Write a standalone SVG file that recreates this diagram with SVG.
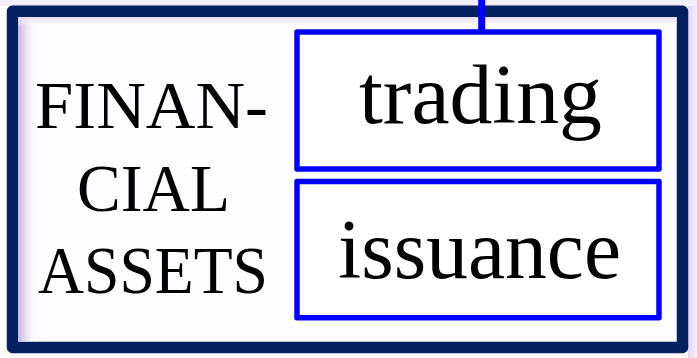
<svg xmlns="http://www.w3.org/2000/svg" width="697" height="358" viewBox="0 0 697 358">
  <defs>
    <linearGradient id="glowL" x1="0" y1="0" x2="1" y2="0">
      <stop offset="0" stop-color="#c9b3e0"/>
      <stop offset="1" stop-color="#ffffff" stop-opacity="0"/>
    </linearGradient>
    <linearGradient id="glowT" x1="0" y1="0" x2="0" y2="1">
      <stop offset="0" stop-color="#e6d8f0"/>
      <stop offset="1" stop-color="#ffffff" stop-opacity="0"/>
    </linearGradient>
    <linearGradient id="outR" x1="0" y1="0" x2="1" y2="0">
      <stop offset="0" stop-color="#e4d6f0"/>
      <stop offset="1" stop-color="#f6f0fb"/>
    </linearGradient>
  </defs>
  <style>
    .frame { fill: #fdfdff; stroke: #05205e; stroke-width: 11.5; stroke-linejoin: round; }
    .box { fill: #ffffff; stroke: #0000ff; stroke-width: 5.5; stroke-linejoin: round; }
    .conn { stroke: #0000ff; stroke-width: 7; fill: none; }
    .big { font-family: "Liberation Serif", "Times New Roman", serif; fill: #000000; }
  </style>
  <rect x="0" y="0" width="697" height="358" fill="#ffffff"/>
  <rect x="688" y="0" width="9" height="358" fill="url(#outR)"/>
  <rect x="0" y="0" width="697" height="6" fill="#f4eef9"/>
  <g id="frame">
    <rect class="frame" x="12.5" y="11.3" width="670" height="336.2"/>
    <rect x="18.3" y="17" width="20" height="324.7" fill="url(#glowL)"/>
    <rect x="18.3" y="17" width="658.4" height="10" fill="url(#glowT)"/>
    <g id="label">
      <text class="big" x="35" y="128" font-size="68" textLength="233" lengthAdjust="spacingAndGlyphs">FINAN-</text>
      <text class="big" x="77" y="211" font-size="68" textLength="153" lengthAdjust="spacingAndGlyphs">CIAL</text>
      <text class="big" x="38" y="293" font-size="68" textLength="230" lengthAdjust="spacingAndGlyphs">ASSETS</text>
    </g>
  </g>
  <g id="connectors">
    <line class="conn" x1="481.7" y1="0" x2="481.7" y2="32"/>
  </g>
  <g id="trading">
    <rect class="box" x="297" y="32" width="362" height="137"/>
    <text class="big" x="359" y="123" font-size="84" textLength="243" lengthAdjust="spacingAndGlyphs">trading</text>
  </g>
  <g id="issuance">
    <rect class="box" x="297" y="181.5" width="362" height="136.2"/>
    <text class="big" x="338" y="278" font-size="84" textLength="283" lengthAdjust="spacingAndGlyphs">issuance</text>
  </g>
</svg>
